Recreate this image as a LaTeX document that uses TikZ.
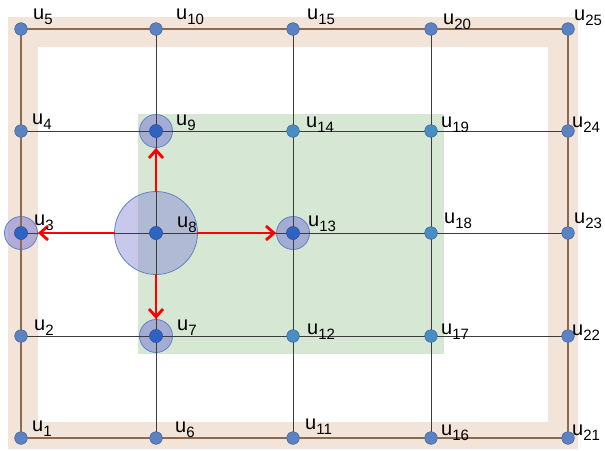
\documentclass[tikz,border=0pt]{standalone}
\usepackage{fontspec}
\setmainfont{Liberation Sans}
\usepackage{tikz}
\usetikzlibrary{arrows.meta, positioning}
\definecolor{frm}{HTML}{F3E4D9}
\definecolor{zone}{HTML}{D6E7D4}
\definecolor{frmln}{HTML}{8A6A50}
\definecolor{grd}{HTML}{3C3C3C}
\definecolor{nd}{HTML}{5B82C3}
\definecolor{ndin}{HTML}{4A8DC5}
\definecolor{ndhi}{HTML}{2F63C1}
\definecolor{halo}{HTML}{8585D5}
\definecolor{halob}{HTML}{5F82C4}

\newcommand{\ulab}[1]{u\raisebox{-5.5pt}{\fontsize{15}{15}\selectfont #1}}

\begin{document}
\begin{tikzpicture}[
  x=1pt, y=-1pt, line cap=round, line join=round,
  font=\fontsize{20}{21}\selectfont,
  dot/.style={circle, fill=nd, draw=nd!80!black, line width=0.4pt,
              minimum size=12.5pt, inner sep=0pt},
  dotin/.style={dot, fill=ndin, draw=ndin!80!black},
  dothi/.style={dot, fill=ndhi, draw=ndhi!80!black, minimum size=13pt},
  ring/.style={circle, fill=halo, fill opacity=0.6, draw=halob,
               line width=0.8pt, minimum size=33pt, inner sep=0pt},
  bigring/.style={ring, fill opacity=0.45, minimum size=83pt},
  edge/.style={draw=grd, line width=0.9pt},
  bord/.style={draw=frmln, line width=1.1pt},
  arr/.style={-{Straight Barb[length=8pt,width=14pt]}, draw=red,
              line width=2.8pt},
  lab/.style={anchor=base west, inner sep=0pt},
]
\useasboundingbox (0,0) rectangle (605,450);

% frame and zone
\fill[frm, even odd rule] (8,17) rectangle (578,449) (38,47) rectangle (548,422);
\fill[zone] (138,114) rectangle (444,354);

% nodes
\node[dot]   (u1)  at ( 21,438) {};
\node[dot]   (u2)  at ( 21,336) {};
\node[dothi] (u3)  at ( 21,233) {};
\node[dot]   (u4)  at ( 21,131) {};
\node[dot]   (u5)  at ( 21, 29) {};
\node[dot]   (u6)  at (156,438) {};
\node[dothi] (u7)  at (156,336) {};
\node[dothi] (u8)  at (156,233) {};
\node[dothi] (u9)  at (156,131) {};
\node[dot]   (u10) at (156, 29) {};
\node[dot]   (u11) at (293,438) {};
\node[dotin] (u12) at (293,336) {};
\node[dothi] (u13) at (293,233) {};
\node[dotin] (u14) at (293,131) {};
\node[dot]   (u15) at (293, 29) {};
\node[dot]   (u16) at (431,438) {};
\node[dotin] (u17) at (431,336) {};
\node[dotin] (u18) at (431,233) {};
\node[dotin] (u19) at (431,131) {};
\node[dot]   (u20) at (431, 29) {};
\node[dot]   (u21) at (568,438) {};
\node[dot]   (u22) at (568,336) {};
\node[dot]   (u23) at (568,233) {};
\node[dot]   (u24) at (568,131) {};
\node[dot]   (u25) at (568, 29) {};

% halos
\node[bigring] (h8)  at (u8)  {};
\node[ring]    (h3)  at (u3)  {};
\node[ring]    (h7)  at (u7)  {};
\node[ring]    (h9)  at (u9)  {};
\node[ring]    (h13) at (u13) {};

% grid
\draw[edge] (u2) -- (u7) -- (u12) -- (u17) -- (u22);
\draw[edge] (u3) -- (u8) -- (u13) -- (u18) -- (u23);
\draw[edge] (u4) -- (u9) -- (u14) -- (u19) -- (u24);
\draw[edge] (u6) -- (u7) -- (u8) -- (u9) -- (u10);
\draw[edge] (u11) -- (u12) -- (u13) -- (u14) -- (u15);
\draw[edge] (u16) -- (u17) -- (u18) -- (u19) -- (u20);
\draw[bord] (u1) -- (u2) -- (u3) -- (u4) -- (u5);
\draw[bord] (u21) -- (u22) -- (u23) -- (u24) -- (u25);
\draw[bord] (u5) -- (u10) -- (u15) -- (u20) -- (u25);
\draw[bord] (u1) -- (u6) -- (u11) -- (u16) -- (u21);

% redraw dots on top of lines
\foreach \n/\s in {1/dot,2/dot,3/dothi,4/dot,5/dot,6/dot,7/dothi,8/dothi,9/dothi,
                   10/dot,11/dot,12/dotin,13/dothi,14/dotin,15/dot,16/dot,17/dotin,
                   18/dotin,19/dotin,20/dot,21/dot,22/dot,23/dot,24/dot,25/dot}
  \node[\s] at (u\n) {};

% moves out of u8
\draw[arr] (h8) -- (h3);
\draw[arr] (h8) -- (h13);
\draw[arr] (h8) -- (h9);
\draw[arr] (h8) -- (h7);

% labels
\node[lab] (l1)  at ( 32,431) {\ulab{1}};
\node[lab] (l2)  at ( 34,330) {\ulab{2}};
\node[lab] (l3)  at ( 34,225) {\ulab{3}};
\node[lab] (l4)  at ( 32,124) {\ulab{4}};
\node[lab] (l5)  at ( 33, 19) {\ulab{5}};
\node[lab] (l6)  at (175,432) {\ulab{6}};
\node[lab] (l7)  at (177,330) {\ulab{7}};
\node[lab] (l8)  at (177,227) {\ulab{8}};
\node[lab] (l9)  at (176,125) {\ulab{9}};
\node[lab] (l10) at (176, 19) {\ulab{10}};
\node[lab] (l11) at (305,429) {\ulab{11}};
\node[lab] (l12) at (307,334) {\ulab{12}};
\node[lab] (l13) at (308,226) {\ulab{13}};
\node[lab] (l14) at (306,127) {\ulab{14}};
\node[lab] (l15) at (307, 19) {\ulab{15}};
\node[lab] (l16) at (441,435) {\ulab{16}};
\node[lab] (l17) at (441,334) {\ulab{17}};
\node[lab] (l18) at (444,223) {\ulab{18}};
\node[lab] (l19) at (441,127) {\ulab{19}};
\node[lab] (l20) at (443, 24) {\ulab{20}};
\node[lab] (l21) at (572,435) {\ulab{21}};
\node[lab] (l22) at (572,335) {\ulab{22}};
\node[lab] (l23) at (574,223) {\ulab{23}};
\node[lab] (l24) at (572,127) {\ulab{24}};
\node[lab] (l25) at (574, 20) {\ulab{25}};
\end{tikzpicture}
\end{document}
